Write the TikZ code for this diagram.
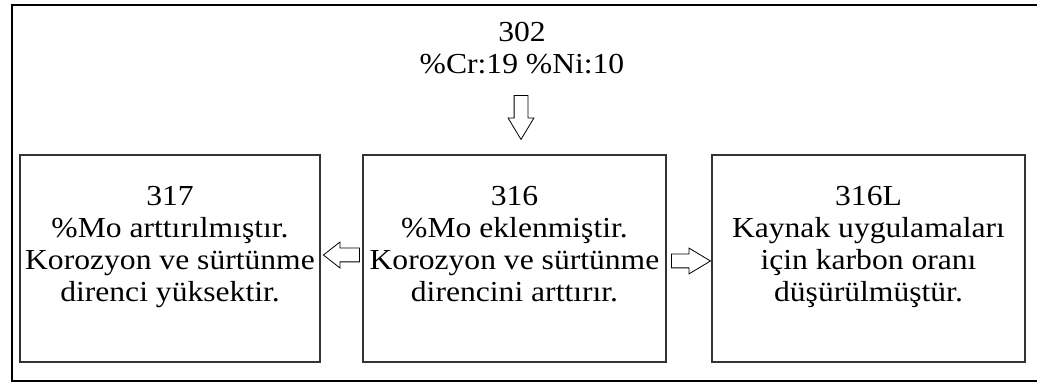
\documentclass[tikz,border=0pt]{standalone}
\usepackage{fontspec}
\setmainfont{Liberation Serif}[FakeStretch=1.09]
\usepackage{tikz}
\usetikzlibrary{positioning}
\usetikzlibrary{shapes.arrows}

\begin{document}
\begin{tikzpicture}[x=1pt,y=1pt,node distance=344.5pt,on grid,
    font=\fontsize{29}{32}\selectfont,
    grade/.style={draw=black!80,line width=1.5pt,minimum height=207pt,inner sep=0pt},
    info/.style={align=center,inner sep=0pt,anchor=north},
    fat/.style={single arrow,draw,line width=0.8pt,inner xsep=0pt,inner ysep=6.5pt,
      single arrow head extend=6pt,single arrow tip angle=62}]
  \useasboundingbox (0,0) rectangle (1037,383);
  % outer frame, open on the right
  \draw[line width=2pt] (1037,378) -- (11.5,378) -- (11.5,1.5) -- (1037,1.5);

  \node[grade,minimum width=303pt]	(316)				at (514.5,124.5)	{};
  \node[grade,minimum width=300pt]	(317)	[left=of 316]			{};
  \node[grade,minimum width=313pt]	(316L)	[right=354pt of 316]		{};

  \node[info]	(302)	at (522,361)	{302\\\%Cr:19 \%Ni:10};
  \node[info]	(t317)	at ([yshift=-32pt]317.north)	{317\\\%Mo arttırılmıştır.\\Korozyon ve sürtünme\\direnci yüksektir.};
  \node[info]	(t316)	at ([yshift=-32pt]316.north)	{316\\\%Mo eklenmiştir.\\Korozyon ve sürtünme\\direncini arttırır.};
  \node[info]	(t316L)	at ([yshift=-32pt]316L.north)	{316L\\Kaynak uygulamaları\\için karbon oranı\\düşürülmüştür.};

  % hollow arrows
  \node[fat,minimum height=44pt,rotate=270,anchor=tip]	(a1)	at ([xshift=6.5pt,yshift=14pt]316.north)	{};
  \node[fat,minimum height=36pt,rotate=180,anchor=tip,single arrow tip angle=76]	(a2)	at ([xshift=2pt,yshift=3.5pt]317.east)	{};
  \node[fat,minimum height=39pt,anchor=tip]	(a3)	at ([yshift=-2.5pt]316L.west)	{};
\end{tikzpicture}
\end{document}
